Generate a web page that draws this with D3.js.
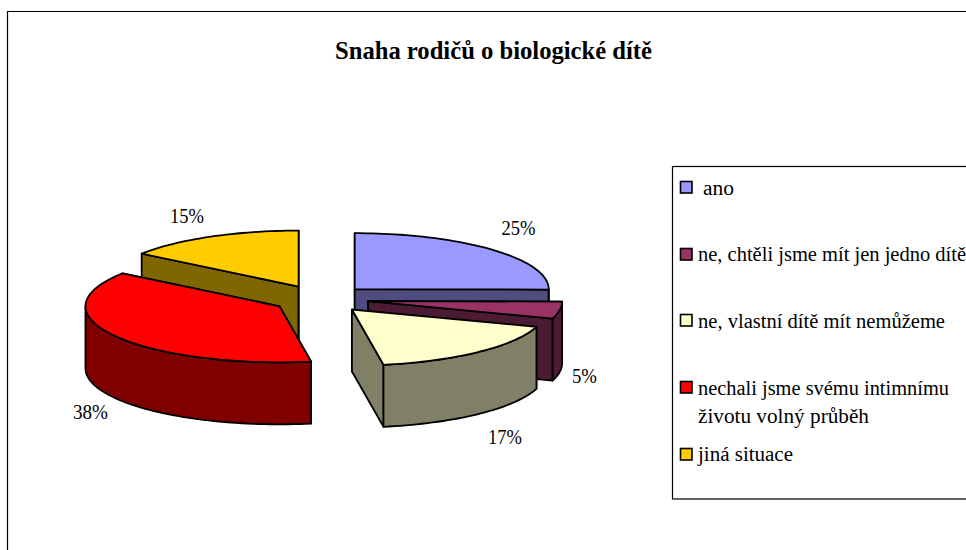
<!DOCTYPE html>
<html>
<head>
<meta charset="utf-8">
<script src="https://cdn.jsdelivr.net/npm/d3@7/dist/d3.min.js"></script>
<style>html,body{margin:0;padding:0;background:#fff;overflow:hidden}svg{display:block}text{font-family:"Liberation Serif",serif;fill:#000}</style>
</head>
<body>
<script>
const chartTitle = "Snaha rodičů o biologické dítě";
const categories = ["ano", "ne, chtěli jsme mít jen jedno dítě", "ne, vlastní dítě mít nemůžeme", "nechali jsme svému intimnímu životu volný průběh", "jiná situace"];
const values = [25.1, 4.9, 17.4, 37.6, 15];
const valueLabels = ["25%", "5%", "17%", "38%", "15%"];
const topColors = ["#9999FF", "#993366", "#FFFFCC", "#FF0000", "#FFCC00"];
const sideColors = ["#4D4D80", "#4D1A33", "#808066", "#800000", "#806600"];

const W = 966, H = 550;
const cx = 320.5, cy = 299, rx = 194, ry = 56, depth = 62, explode = 0.2486;
const labelPos = [[518.5, 235], [584.5, 383], [505, 444], [90.5, 419], [187, 223]];
const labelWidths = [34, 25, 34, 35, 34];
const legendRows = [
  {y: 187, tx: 703, lines: [[categories[0], 195, 31]]},
  {y: 254, tx: 698, lines: [[categories[1], 261, 268]]},
  {y: 320, tx: 698, lines: [[categories[2], 328, 247]]},
  {y: 387, tx: 698, lines: [["nechali jsme svému intimnímu", 395, 251], ["životu volný průběh", 423, 171]]},
  {y: 454, tx: 698, lines: [[categories[4], 461, 95]]}
];

const svg = d3.select("body").append("svg").attr("width", W).attr("height", H);
svg.append("rect").attr("width", W).attr("height", H).attr("fill", "#fff");

// chart frame (runs off the right and bottom of the page)
svg.append("path").attr("d", `M7.5 ${H}V11.5H${W}`).attr("fill", "none").attr("stroke", "#000").attr("stroke-width", 1.2);

svg.append("text").attr("x", 493.5).attr("y", 59).attr("text-anchor", "middle")
  .attr("font-size", 25).attr("font-weight", "bold").attr("textLength", 317).attr("lengthAdjust", "spacingAndGlyphs")
  .text(chartTitle);

const sx = d3.scaleLinear().domain([-1, 1]).range([-rx, rx]);
const sy = d3.scaleLinear().domain([-1, 1]).range([-ry, ry]);
const pie = d3.pie().sort(null).value(d => d);
const arcs = pie(values);
const line = d3.line();

function rimPoint(o, a, drop) {
  return [o[0] + sx(Math.sin(a)), o[1] - sy(Math.cos(a)) + drop];
}
function sample(a0, a1) {
  const n = Math.max(2, Math.ceil((a1 - a0) / 0.03));
  return d3.range(n + 1).map(i => a0 + (a1 - a0) * i / n);
}

const g = svg.append("g").attr("stroke", "#000").attr("stroke-width", 1.8).attr("stroke-linejoin", "round");
function poly(pts, fill) {
  g.append("path").attr("d", line(pts) + "Z").attr("fill", fill);
}

// painter's order: back slices first
[0, 4, 1, 3, 2].forEach(i => {
  const d = arcs[i];
  const mid = (d.startAngle + d.endAngle) / 2;
  const o = [cx + explode * sx(Math.sin(mid)), cy - explode * sy(Math.cos(mid))];
  const oB = [o[0], o[1] + depth];
  [d.startAngle, d.endAngle].forEach(a => {
    poly([o, rimPoint(o, a, 0), rimPoint(o, a, depth), oB], sideColors[i]);
  });
  const a0 = Math.max(d.startAngle, Math.PI / 2), a1 = Math.min(d.endAngle, 3 * Math.PI / 2);
  if (a1 > a0) {
    const s = sample(a0, a1);
    poly(s.map(a => rimPoint(o, a, 0)).concat(s.slice().reverse().map(a => rimPoint(o, a, depth))), sideColors[i]);
  }
  poly([o].concat(sample(d.startAngle, d.endAngle).map(a => rimPoint(o, a, 0))), topColors[i]);
});

svg.selectAll("text.val").data(valueLabels).join("text").attr("class", "val")
  .attr("x", (d, i) => labelPos[i][0]).attr("y", (d, i) => labelPos[i][1])
  .attr("text-anchor", "middle").attr("font-size", 20)
  .attr("textLength", (d, i) => labelWidths[i]).attr("lengthAdjust", "spacingAndGlyphs").text(d => d);

// legend
svg.append("rect").attr("x", 672.5).attr("y", 166.5).attr("width", W).attr("height", 332.5)
  .attr("fill", "#fff").attr("stroke", "#000").attr("stroke-width", 1.2);
legendRows.forEach((r, i) => {
  svg.append("rect").attr("x", 680.5).attr("y", r.y - 5.5).attr("width", 11.5).attr("height", 11.5)
    .attr("fill", topColors[i]).attr("stroke", "#000").attr("stroke-width", 1.6);
  r.lines.forEach(l => {
    svg.append("text").attr("x", r.tx).attr("y", l[1]).attr("font-size", 20)
      .attr("textLength", l[2]).attr("lengthAdjust", "spacingAndGlyphs").text(l[0]);
  });
});
</script>
</body>
</html>
